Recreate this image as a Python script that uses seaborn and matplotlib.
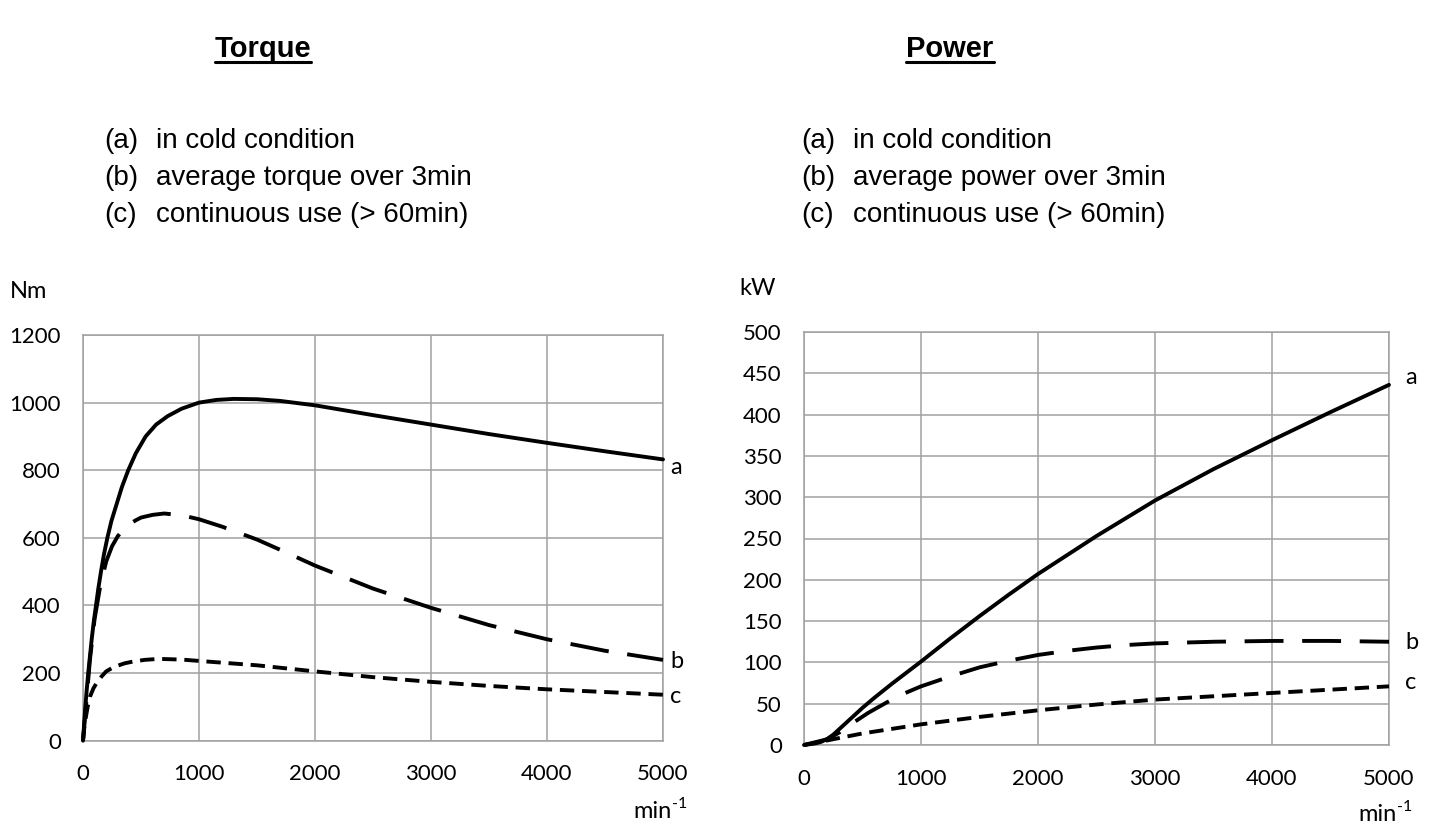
import matplotlib
matplotlib.use('Agg')
import matplotlib.pyplot as plt
from matplotlib.lines import Line2D
import seaborn as sns

# torque curves (Nm vs min^-1)
rpm_ta = [0, 10, 20, 32, 45, 60, 75, 92, 112, 132, 155, 180, 210, 245, 290, 335, 390, 455, 540, 630, 730, 850,
          1000, 1150, 1300, 1500, 1700, 2000, 2500, 3000, 3500, 4000, 4500, 5000]
torque_a = [0, 50, 100, 150, 200, 250, 300, 350, 400, 450, 500, 550, 600, 650, 700, 750, 800, 850, 900, 935, 960, 982,
            1000, 1008, 1011, 1010, 1005, 992, 963, 935, 907, 881, 856, 832]
rpm_tb = [0, 30, 60, 100, 150, 200, 250, 300, 350, 400, 450, 500, 600, 700, 850, 1000, 1200, 1500, 1750, 2000,
          2500, 3000, 3500, 4000, 4500, 5000]
torque_b = [0, 120, 240, 360, 460, 530, 575, 605, 625, 640, 651, 660, 668, 672, 667, 655, 633, 595, 557, 518,
            450, 393, 342, 300, 266, 239]
rpm_tc = [0, 10, 20, 40, 60, 90, 120, 160, 200, 250, 300, 360, 430, 530, 650, 850, 1000, 1500, 2000, 2500, 3000,
          3500, 4000, 4500, 5000]
torque_c = [0, 35, 60, 100, 130, 155, 172, 190, 205, 215, 222, 229, 234, 239, 242, 240, 236, 223, 205, 188, 174,
            162, 152, 144, 136]

# power curves (kW vs min^-1)
rpm_pa = [0, 100, 150, 200, 250, 300, 400, 500, 600, 750, 1000, 1250, 1500, 1750, 2000, 2500, 3000, 3500, 4000,
          4500, 5000]
power_a = [0, 2, 4, 7.5, 12.5, 19, 32, 45, 57, 74, 101, 129, 156, 182, 207, 253, 296, 334, 369, 403, 436]
rpm_pb = [0, 200, 300, 400, 550, 700, 850, 1000, 1250, 1500, 1750, 2000, 2250, 2500, 2750, 3000, 3500, 4000, 4500, 5000]
power_b = [0, 7, 15, 25, 39, 51, 62, 71, 83, 94, 102, 109, 114, 118, 121, 123, 125, 126, 126, 125]
rpm_pc = [0, 250, 500, 1000, 1500, 2000, 2500, 3000, 3500, 4000, 4500, 5000]
power_c = [0, 7, 14, 25, 34, 42, 49, 55, 59, 63, 67, 71]

legend_torque = ['in cold condition', 'average torque over 3min', 'continuous use (> 60min)']
legend_power = ['in cold condition', 'average power over 3min', 'continuous use (> 60min)']
tags = ['(a)', '(b)', '(c)']

sns.set_style('white')
plt.rcParams['font.family'] = ['Lato', 'DejaVu Sans']
plt.rcParams['text.color'] = 'black'

W, H = 1451, 840
fig = plt.figure(figsize=(W / 100, H / 100), dpi=100)


def fx(px):
    return px / W


def fy(py):
    return 1 - py / H


GRID = '#a0a0a0'
styles = ['-', (0, (10, 4.8)), (0, (3.7, 2.0))]


def style_axes(ax, xmax, ymax, ystep):
    ax.set_xlim(0, xmax)
    ax.set_ylim(0, ymax)
    ax.set_xticks(range(0, xmax + 1, 1000))
    ax.set_yticks(range(0, ymax + 1, ystep))
    ax.grid(True, color=GRID, lw=1.1)
    for s in ax.spines.values():
        s.set_color(GRID)
        s.set_linewidth(1.1)
    ax.tick_params(axis='both', direction='out', length=5, width=1.1, color=GRID,
                   labelsize=16, labelcolor='black')
    ax.tick_params(axis='y', pad=11)
    ax.tick_params(axis='x', pad=12)
    ax.set_xlabel('')
    ax.set_ylabel('')


# torque panel
ax1 = fig.add_axes([fx(83), fy(740.7), fx(663 - 83), (740.7 - 335) / H])
series_t = [(rpm_ta, torque_a), (rpm_tb, torque_b), (rpm_tc, torque_c)]
for (x, y), ls in zip(series_t, styles):
    sns.lineplot(x=x, y=y, ax=ax1, color='black', lw=2.8, linestyle=ls,
                 clip_on=False, zorder=3, legend=False)
style_axes(ax1, 5000, 1200, 200)
for (x, y), lab, dy in zip(series_t, ['a', 'b', 'c'], [-8, -2, -2]):
    ax1.annotate(lab, xy=(x[-1], y[-1]), xytext=(7, dy), textcoords='offset pixels',
                 ha='left', va='center', fontsize=17)

# power panel
ax2 = fig.add_axes([fx(804), fy(745), fx(1389 - 804), (745 - 332) / H])
series_p = [(rpm_pa, power_a), (rpm_pb, power_b), (rpm_pc, power_c)]
for (x, y), ls in zip(series_p, styles):
    sns.lineplot(x=x, y=y, ax=ax2, color='black', lw=2.8, linestyle=ls,
                 clip_on=False, zorder=3, legend=False)
style_axes(ax2, 5000, 500, 50)
for (x, y), lab, dy in zip(series_p, ['a', 'b', 'c'], [7, -1, 4]):
    ax2.annotate(lab, xy=(x[-1], y[-1]), xytext=(16, dy), textcoords='offset pixels',
                 ha='left', va='center', fontsize=17)

# unit labels
fig.text(fx(10), fy(298), 'Nm', fontsize=17, ha='left', va='baseline')
fig.text(fx(739), fy(295), 'kW', fontsize=17, ha='left', va='baseline')
mins = [fig.text(fx(633), fy(818), 'min', fontsize=17, ha='left', va='baseline'),
        fig.text(fx(1358), fy(821), 'min', fontsize=17, ha='left', va='baseline')]

# titles
titles = []
for cx, t in [(263, 'Torque'), (950, 'Power')]:
    titles.append(fig.text(fx(cx), fy(57), t, fontsize=21, fontweight='bold',
                           family='Liberation Sans', ha='center', va='baseline'))

# descriptive lists
for x0, items in [(104, legend_torque), (801, legend_power)]:
    for i, (tag, txt) in enumerate(zip(tags, items)):
        yb = 148 + 37 * i
        fig.text(fx(x0), fy(yb), tag, fontsize=20, family='Liberation Sans', ha='left', va='baseline')
        fig.text(fx(x0 + 52), fy(yb), txt, fontsize=20, family='Liberation Sans', ha='left', va='baseline')

# underline the titles, add the exponent after "min"
fig.canvas.draw()
r = fig.canvas.get_renderer()
for t in titles:
    bb = t.get_window_extent(r)
    fig.add_artist(Line2D([bb.x0 / W, bb.x1 / W], [fy(61.5)] * 2, color='black', lw=2.2,
                          transform=fig.transFigure))
for t, base in zip(mins, [818, 821]):
    bb = t.get_window_extent(r)
    fig.text((bb.x1 + 1) / W, fy(base - 10), '-1', fontsize=11.5, ha='left', va='baseline')

fig.savefig('out.png', dpi=100)
print('Saved out.png')
